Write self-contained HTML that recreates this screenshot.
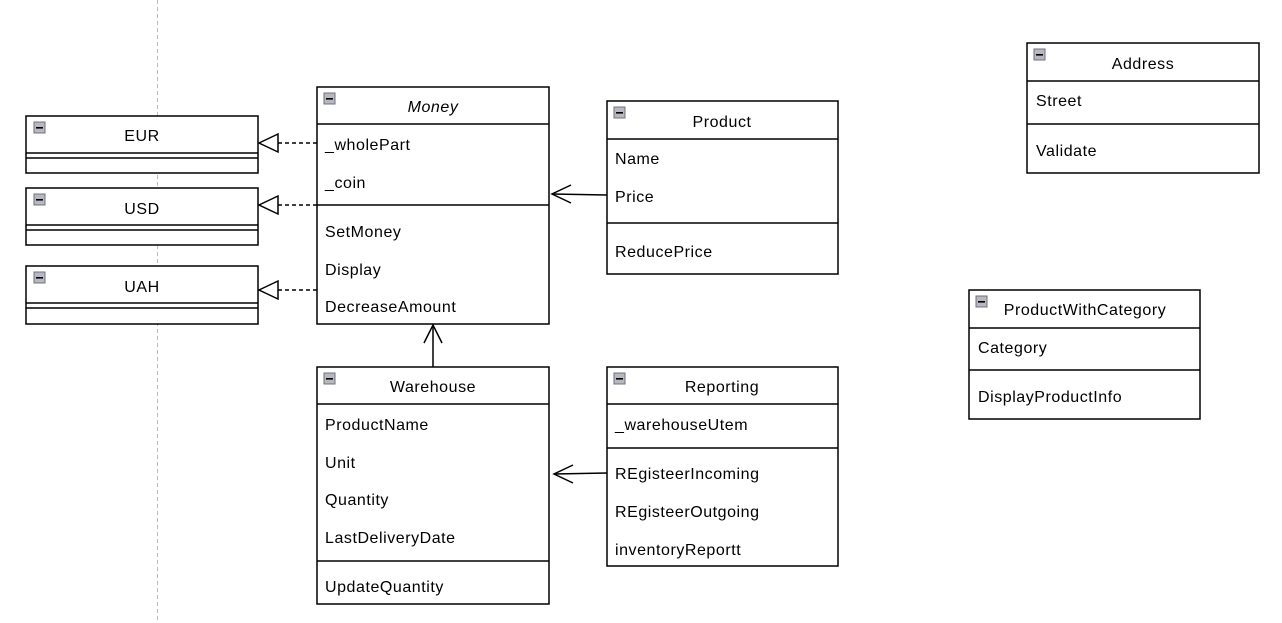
<!DOCTYPE html>
<html><head><meta charset="utf-8"><style>
html,body{margin:0;padding:0;background:#fff;width:1282px;height:623px;overflow:hidden}
svg{display:block}
text{font-family:"Liberation Sans",Arial,sans-serif;font-size:16px;letter-spacing:0.55px;fill:#000}
.b{fill:#fff;stroke:#000;stroke-width:1.5}
.l{stroke:#000;stroke-width:1.5;fill:none}
.d{stroke:#000;stroke-width:1.5;fill:none;stroke-dasharray:4,3}
.ic{fill:#b8b8c0;stroke:#707080;stroke-width:1}
</style></head><body>
<svg width="1282" height="623" viewBox="0 0 1282 623">
<defs>
<g id="icon"><rect class="ic" x="0" y="0" width="11" height="11"/><rect x="2" y="5" width="7" height="1.6" fill="#000"/></g>
</defs>
<line x1="157.5" y1="0" x2="157.5" y2="623" stroke="#bbb" stroke-width="1" stroke-dasharray="4,3"/>

<!-- EUR -->
<rect class="b" x="26" y="116" width="232" height="57"/>
<line class="l" x1="26" y1="153" x2="258" y2="153"/><line class="l" x1="26" y1="158" x2="258" y2="158"/>
<use href="#icon" x="34" y="122"/><text x="142" y="141" text-anchor="middle">EUR</text>
<!-- USD -->
<rect class="b" x="26" y="188" width="232" height="57"/>
<line class="l" x1="26" y1="225" x2="258" y2="225"/><line class="l" x1="26" y1="230" x2="258" y2="230"/>
<use href="#icon" x="34" y="194"/><text x="142" y="214" text-anchor="middle">USD</text>
<!-- UAH -->
<rect class="b" x="26" y="266" width="232" height="58"/>
<line class="l" x1="26" y1="303" x2="258" y2="303"/><line class="l" x1="26" y1="308" x2="258" y2="308"/>
<use href="#icon" x="34" y="272"/><text x="142" y="292" text-anchor="middle">UAH</text>

<!-- Money -->
<rect class="b" x="317" y="87" width="232" height="237"/>
<line class="l" x1="317" y1="124" x2="549" y2="124"/><line class="l" x1="317" y1="205" x2="549" y2="205"/>
<use href="#icon" x="324" y="93"/><text x="433" y="112" text-anchor="middle" font-style="italic">Money</text>
<text x="325" y="150">_wholePart</text><text x="325" y="188">_coin</text>
<text x="325" y="237">SetMoney</text><text x="325" y="275">Display</text><text x="325" y="312">DecreaseAmount</text>

<!-- Product -->
<rect class="b" x="607" y="101" width="231" height="173"/>
<line class="l" x1="607" y1="139" x2="838" y2="139"/><line class="l" x1="607" y1="223" x2="838" y2="223"/>
<use href="#icon" x="614" y="107"/><text x="722" y="127" text-anchor="middle">Product</text>
<text x="615" y="164">Name</text><text x="615" y="202">Price</text><text x="615" y="257">ReducePrice</text>

<!-- Address -->
<rect class="b" x="1027" y="43" width="232" height="130"/>
<line class="l" x1="1027" y1="81" x2="1259" y2="81"/><line class="l" x1="1027" y1="124" x2="1259" y2="124"/>
<use href="#icon" x="1034" y="49"/><text x="1143" y="69" text-anchor="middle">Address</text>
<text x="1036" y="106">Street</text><text x="1036" y="156">Validate</text>

<!-- ProductWithCategory -->
<rect class="b" x="969" y="290" width="231" height="129"/>
<line class="l" x1="969" y1="328" x2="1200" y2="328"/><line class="l" x1="969" y1="370" x2="1200" y2="370"/>
<use href="#icon" x="976" y="296"/><text x="1085" y="315" text-anchor="middle">ProductWithCategory</text>
<text x="978" y="353">Category</text><text x="978" y="402">DisplayProductInfo</text>

<!-- Warehouse -->
<rect class="b" x="317" y="367" width="232" height="237"/>
<line class="l" x1="317" y1="404" x2="549" y2="404"/><line class="l" x1="317" y1="561" x2="549" y2="561"/>
<use href="#icon" x="324" y="373"/><text x="433" y="392" text-anchor="middle">Warehouse</text>
<text x="325" y="430">ProductName</text><text x="325" y="468">Unit</text><text x="325" y="505">Quantity</text><text x="325" y="543">LastDeliveryDate</text>
<text x="325" y="592">UpdateQuantity</text>

<!-- Reporting -->
<rect class="b" x="607" y="367" width="231" height="199"/>
<line class="l" x1="607" y1="404" x2="838" y2="404"/><line class="l" x1="607" y1="448" x2="838" y2="448"/>
<use href="#icon" x="614" y="373"/><text x="722" y="392" text-anchor="middle">Reporting</text>
<text x="615" y="430">_warehouseUtem</text>
<text x="615" y="479">REgisteerIncoming</text><text x="615" y="517">REgisteerOutgoing</text><text x="615" y="555">inventoryReportt</text>

<!-- realization arrows -->
<line class="d" x1="278" y1="143" x2="317" y2="143"/>
<polygon class="b" points="259,143 278,134 278,152"/>
<line class="d" x1="278" y1="205" x2="317" y2="205"/>
<polygon class="b" points="259,205 278,196 278,214"/>
<line class="d" x1="278" y1="290" x2="317" y2="290"/>
<polygon class="b" points="259,290 278,281 278,299"/>

<!-- associations -->
<line class="l" x1="552" y1="194" x2="607" y2="195"/>
<polyline class="l" points="571,185 552,194 571,203"/>
<line class="l" x1="433" y1="325" x2="433" y2="367"/>
<polyline class="l" points="424,343 433,325 442,343"/>
<line class="l" x1="554" y1="474" x2="607" y2="473"/>
<polyline class="l" points="573,465 554,474 573,483"/>
</svg>
</body></html>
